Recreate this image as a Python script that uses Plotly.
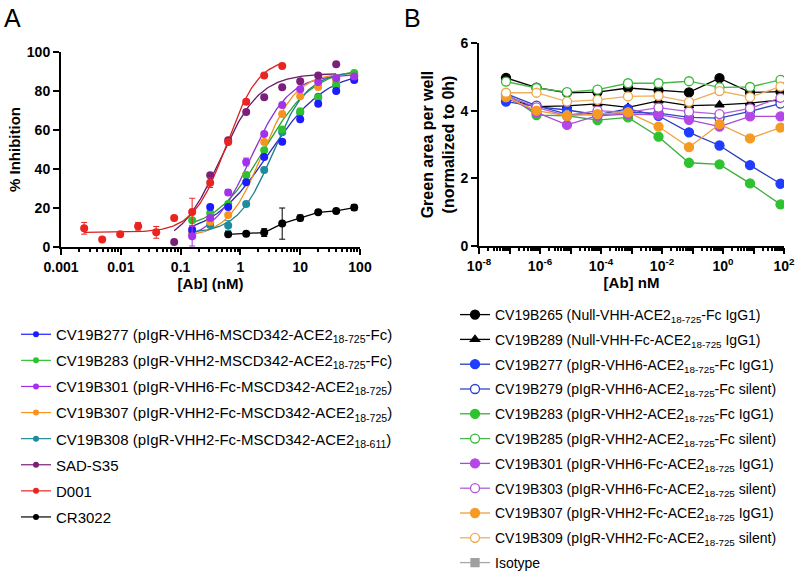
import numpy as np
import plotly.graph_objects as go

FONT = "Liberation Sans, Arial, Helvetica, sans-serif"
W, H = 800, 573

# ---------------- Panel A data ----------------
conc_d001 = [0.00244, 0.00488, 0.00977, 0.0195, 0.0391, 0.0781, 0.156, 0.3125, 0.625, 1.25, 2.5, 5]
inh_d001 = [9.6, 3.8, 6.5, 10.6, 7.5, 14.9, 18, 33, 53.8, 74.5, 88, 92.8]
err_d001 = [3, 0, 0, 2, 3, 0, 7, 2.5, 0, 0, 0, 0]

conc_sad = [0.0781, 0.3125, 0.625, 1.25, 2.5, 5, 10, 20, 40]
inh_sad = [2.6, 36.8, 54.7, 69.2, 76.8, 81.9, 85, 87.9, 93.7]

conc_std = [0.156, 0.3125, 0.625, 1.25, 2.5, 5, 10, 20, 40, 80]
inh_277 = [8.9, 20.5, 20.5, 33.2, 46.2, 54, 65.5, 73.5, 80, 85.6]
inh_283 = [13.7, 17.4, 22, 36.8, 49.6, 60.2, 69.6, 76.4, 83.2, 89.2]
inh_301 = [5.5, 14.9, 28, 43.6, 58, 72.8, 80.9, 84.6, 86.5, 87.5]
err_301 = [5, 0, 1.5, 2, 0, 0, 0, 0, 0, 0]
inh_307 = [7, 13, 16.4, 37, 53.8, 68.2, 77.3, 82, 85.3, 88.4]
inh_308 = [7, 11.3, 11, 22, 39.5, 58.8, 69, 77, 82.4, 87.5]
err_308 = [0, 0, 2.5, 0, 0, 0, 0, 0, 0, 0]

conc_cr = [0.625, 1.25, 2.5, 5, 10, 20, 40, 80]
inh_cr = [6.5, 6.8, 7.4, 12, 14.9, 17.8, 18.5, 20.2]
err_cr = [0, 0, 2, 8, 1.5, 0, 0, 1.5]

# 4-parameter logistic fit parameters (bottom, top, EC50, hill)
fit_d001 = (7.5, 97, 0.58, 1.6)
fit_sad = (0, 89, 0.45, 1.3)
fit_277 = (5, 91, 3.0, 0.9)
fit_283 = (8, 92, 2.5, 1.05)
fit_301 = (3, 88.5, 1.5, 1.35)
fit_307 = (5, 89.5, 2.3, 1.5)
fit_308 = (7, 90, 3.5, 1.5)

names_a = [
    "CV19B277 (pIgR-VHH6-MSCD342-ACE2<sub>18-725</sub>-Fc)",
    "CV19B283 (pIgR-VHH2-MSCD342-ACE2<sub>18-725</sub>-Fc)",
    "CV19B301 (pIgR-VHH6-Fc-MSCD342-ACE2<sub>18-725</sub>)",
    "CV19B307 (pIgR-VHH2-Fc-MSCD342-ACE2<sub>18-725</sub>)",
    "CV19B308 (pIgR-VHH2-Fc-MSCD342-ACE2<sub>18-611</sub>)",
    "SAD-S35",
    "D001",
    "CR3022",
]
colors_a = ["#1c1cff", "#2ec22e", "#a332ea", "#f7931e", "#1f8c9e", "#7a1f7a", "#ea2420", "#000000"]
curve_colors_a = ["#2a2ab8", "#2aa22a", "#9030d0", "#f0901e", "#1f7f90", "#6a1a6a", "#d82020", "#000000"]

# ---------------- Panel B data ----------------
conc_b = [7.68e-8, 7.68e-7, 7.68e-6, 7.68e-5, 7.68e-4, 7.68e-3, 0.0768, 0.768, 7.68, 76.8]
g265 = [4.97, 4.68, 4.53, 4.55, 4.67, 4.60, 4.54, 4.96, 4.54, 4.56]
g289 = [4.35, 4.12, 4.14, 4.20, 4.10, 4.29, 4.15, 4.17, 4.22, 4.32]
g277 = [4.27, 4.12, 4.02, 3.88, 4.05, 3.85, 3.36, 2.97, 2.39, 1.84]
g279 = [4.50, 4.15, 3.90, 3.88, 3.95, 3.93, 3.80, 3.78, 3.98, 4.21]
g283 = [4.50, 3.87, 3.85, 3.72, 3.80, 3.23, 2.46, 2.41, 1.85, 1.23]
g285 = [4.86, 4.67, 4.55, 4.62, 4.81, 4.81, 4.87, 4.69, 4.70, 4.91]
g301 = [4.40, 3.95, 3.58, 3.85, 3.90, 3.88, 3.73, 3.53, 3.83, 3.83]
g303 = [4.45, 4.10, 3.85, 4.00, 3.95, 4.09, 3.97, 3.90, 4.07, 4.38]
g307 = [4.40, 4.00, 3.85, 3.90, 3.95, 3.53, 2.92, 3.60, 3.18, 3.50]
g309 = [4.53, 4.53, 4.27, 4.32, 4.42, 4.44, 4.26, 4.58, 4.40, 4.71]
g_iso = []

names_b = [
    "CV19B265 (Null-VHH-ACE2<sub>18-725</sub>-Fc IgG1)",
    "CV19B289 (Null-VHH-Fc-ACE2<sub>18-725</sub> IgG1)",
    "CV19B277 (pIgR-VHH6-ACE2<sub>18-725</sub>-Fc IgG1)",
    "CV19B279 (pIgR-VHH6-ACE2<sub>18-725</sub>-Fc silent)",
    "CV19B283 (pIgR-VHH2-ACE2<sub>18-725</sub>-Fc IgG1)",
    "CV19B285 (pIgR-VHH2-ACE2<sub>18-725</sub>-Fc silent)",
    "CV19B301 (pIgR-VHH6-Fc-ACE2<sub>18-725</sub> IgG1)",
    "CV19B303 (pIgR-VHH6-Fc-ACE2<sub>18-725</sub> silent)",
    "CV19B307 (pIgR-VHH2-Fc-ACE2<sub>18-725</sub> IgG1)",
    "CV19B309 (pIgR-VHH2-Fc-ACE2<sub>18-725</sub> silent)",
    "Isotype",
]
values_b = [g265, g289, g277, g279, g283, g285, g301, g303, g307, g309, g_iso]
colors_b = ["#000000", "#000000", "#1f3cff", "#2a40d0", "#2ec22e", "#36b836",
            "#b447e6", "#b050d8", "#f59a22", "#eda84a", "#a0a0a0"]
line_colors_b = ["#000000", "#000000", "#2a3cc0", "#3048c8", "#3cae3c", "#48b848",
                 "#a84ad8", "#b060d8", "#eea040", "#eeb060", "#a8a8a8"]
symbols_b = ["circle", "triangle-up", "circle", "circle", "circle", "circle",
             "circle", "circle", "circle", "circle", "square"]
open_b = [False, False, False, True, False, True, False, True, False, True, False]

tick_labels_b = ["10<sup>-8</sup>", "", "10<sup>-6</sup>", "", "10<sup>-4</sup>", "",
                 "10<sup>-2</sup>", "", "10<sup>0</sup>", "", "10<sup>2</sup>"]
tick_vals_b = [1e-8, 1e-7, 1e-6, 1e-5, 1e-4, 1e-3, 1e-2, 1e-1, 1e0, 1e1, 1e2]


def four_pl(x, p):
    b, t, ec, h = p
    x = np.asarray(x, dtype=float)
    return b + (t - b) / (1.0 + (ec / x) ** h)


fig = go.Figure()

series_a = [
    (conc_std, inh_277, None, fit_277),
    (conc_std, inh_283, None, fit_283),
    (conc_std, inh_301, err_301, fit_301),
    (conc_std, inh_307, None, fit_307),
    (conc_std, inh_308, err_308, fit_308),
    (conc_sad, inh_sad, None, fit_sad),
    (conc_d001, inh_d001, err_d001, fit_d001),
    (conc_cr, inh_cr, err_cr, None),
]

# fitted curves
for i, (cx, cy, ce, fit) in enumerate(series_a):
    if fit is None:
        fig.add_trace(go.Scatter(x=cx, y=cy, mode="lines", xaxis="x", yaxis="y",
                                 line=dict(color=curve_colors_a[i], width=1.3),
                                 showlegend=False, hoverinfo="skip"))
    else:
        xs = np.logspace(np.log10(cx[0]), np.log10(cx[-1]), 120)
        fig.add_trace(go.Scatter(x=xs, y=four_pl(xs, fit), mode="lines", xaxis="x", yaxis="y",
                                 line=dict(color=curve_colors_a[i], width=1.3),
                                 showlegend=False, hoverinfo="skip"))

# data points
order = [7, 4, 3, 1, 0, 2, 5, 6]
for i in order:
    cx, cy, ce, fit = series_a[i]
    err = None
    if ce is not None:
        err = dict(type="data", array=ce, visible=True, color=colors_a[i], thickness=1, width=3)
    fig.add_trace(go.Scatter(x=cx, y=cy, mode="markers", xaxis="x", yaxis="y",
                             marker=dict(color=colors_a[i], size=8, line=dict(width=0)),
                             error_y=err, showlegend=False))

# legend entries for panel A
for i, nm in enumerate(names_a):
    fig.add_trace(go.Scatter(x=[None], y=[None], mode="lines+markers", xaxis="x", yaxis="y",
                             name=nm, legend="legend", legendgroup="a%d" % i,
                             line=dict(color=colors_a[i], width=1.2),
                             marker=dict(color=colors_a[i], size=6)))

# Panel B traces
for i, nm in enumerate(names_b):
    vals = values_b[i]
    xs = conc_b[:len(vals)] if vals else [None]
    ys = vals if vals else [None]
    fill = "#ffffff" if open_b[i] else colors_b[i]
    fig.add_trace(go.Scatter(x=xs, y=ys, mode="lines+markers", xaxis="x2", yaxis="y2",
                             name=nm, legend="legend2", legendgroup="b%d" % i,
                             line=dict(color=line_colors_b[i], width=1.3),
                             marker=dict(symbol=symbols_b[i], color=fill,
                                         size=9 if symbols_b[i] == "circle" else 8,
                                         line=dict(color=colors_b[i], width=1.3))))

axis_common = dict(showline=True, linecolor="black", linewidth=2, ticks="outside",
                   tickwidth=2, ticklen=6, tickcolor="black", showgrid=False, zeroline=False,
                   automargin=False,
                   tickfont=dict(family=FONT, size=14, color="black", weight="bold"))

title_font = dict(family=FONT, size=15, weight="bold", color="black")
title_font_b = dict(family=FONT, size=16, weight="bold", color="black")

fig.update_layout(
    width=W, height=H, margin=dict(l=0, r=0, t=0, b=0, autoexpand=False),
    paper_bgcolor="white", plot_bgcolor="white",
    font=dict(family=FONT, color="black"),
    xaxis=dict(domain=[61 / W, 360 / W], type="log", range=[-3, 2], dtick=1, anchor="y",
               minor=dict(ticks="outside", ticklen=3, tickwidth=1.5, tickcolor="black", dtick="D1"),
               title=dict(text="[Ab] (nM)", font=title_font, standoff=2),
               **axis_common),
    yaxis=dict(domain=[1 - 247 / H, 1 - 52 / H], range=[0, 100], dtick=20, anchor="x",
               title=dict(text="% Inhibition", font=title_font, standoff=3),
               **axis_common),
    xaxis2=dict(domain=[479 / W, 784 / W], type="log", range=[-8, 2], anchor="y2",
                tickmode="array", tickvals=tick_vals_b, ticktext=tick_labels_b,
                minor=dict(ticks="outside", ticklen=3, tickwidth=1.5, tickcolor="black", dtick="D1"),
                title=dict(text="[Ab] nM", font=title_font, standoff=4),
                **axis_common),
    yaxis2=dict(domain=[1 - 246 / H, 1 - 43 / H], range=[0, 6], dtick=2, anchor="x2",
                title=dict(text="Green area per well<br>(normalized to 0h)", font=title_font_b, standoff=2),
                **axis_common),
    legend=dict(x=16 / W, y=1 - 318 / H, xanchor="left", yanchor="top",
                font=dict(family=FONT, size=15, color="black"), tracegroupgap=3.6,
                bgcolor="rgba(0,0,0,0)", itemclick=False, itemdoubleclick=False),
    legend2=dict(x=455 / W, y=1 - 299 / H, xanchor="left", yanchor="top",
                 font=dict(family=FONT, size=14, color="black"), tracegroupgap=3.6,
                 bgcolor="rgba(0,0,0,0)", itemclick=False, itemdoubleclick=False),
    annotations=[
        dict(text="A", x=2 / W, y=1 - 2 / H, xref="paper", yref="paper", xanchor="left", yanchor="top",
             showarrow=False, font=dict(family=FONT, size=25, color="black")),
        dict(text="B", x=402 / W, y=1 - 2 / H, xref="paper", yref="paper", xanchor="left", yanchor="top",
             showarrow=False, font=dict(family=FONT, size=25, color="black")),
    ],
)

fig.write_html("out.html", config={"displayModeBar": False},
               post_script="document.body.style.margin='0px';")
